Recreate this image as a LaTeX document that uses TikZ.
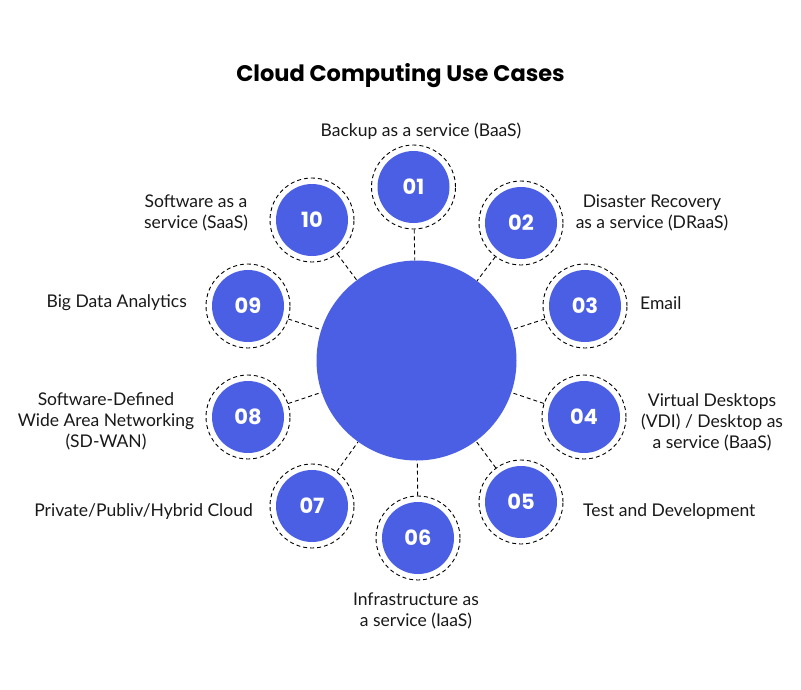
\documentclass[tikz,border=0pt]{standalone}
\usepackage{fontspec}
\setmainfont{Lato}
\newfontfamily\popf{Poppins}
\definecolor{cblue}{RGB}{74,95,228}
\tikzset{
  mainc/.style={circle, fill=cblue, minimum size=200pt, inner sep=0pt},
  numc/.style={circle, fill=cblue, minimum size=72pt, inner sep=0pt, text=white, font={\popf\bfseries\fontsize{21}{24}\selectfont}},
  ringc/.style={circle, draw=black, dash pattern=on 4pt off 3pt, line width=0.9pt, minimum size=84pt, inner sep=0pt},
  conn/.style={draw=black, dash pattern=on 4pt off 3pt, line width=0.9pt},
  lbl/.style={inner sep=0pt, align=center, font={\fontsize{17.5}{21}\selectfont}, text=black!90},
  ttl/.style={inner sep=0pt, font={\popf\bfseries\fontsize{22.5}{26}\selectfont}}
}
\begin{document}
\begin{tikzpicture}[x=1pt,y=-1pt]
\useasboundingbox (0,0) rectangle (801,689);
\fill[white] (0,0) rectangle (801,689);
\node[ttl] (title) at (400.5,76) {Cloud Computing Use Cases};
\node[mainc] (c) at (416.5,360.5) {};
% rings and circles
\foreach \i/\x/\y in {1/413.5/187, 2/521/223, 3/585/306, 4/584/417, 5/521/502, 6/418/538, 7/312/506, 8/248/417, 9/248/306, 10/312/220}{
  \node[ringc] (r\i) at (\x,\y) {};
}
\node[numc] (n1) at (r1) {01};
\node[numc] (n2) at (r2) {02};
\node[numc] (n3) at (r3) {03};
\node[numc] (n4) at (r4) {04};
\node[numc] (n5) at (r5) {05};
\node[numc] (n6) at (r6) {06};
\node[numc] (n7) at (r7) {07};
\node[numc] (n8) at (r8) {08};
\node[numc] (n9) at (r9) {09};
\node[numc] (n10) at (r10) {10};
\foreach \i in {1,...,10}{
  \draw[conn] (r\i) -- (c);
}
% labels
\node[lbl] (l1) at (421,131) {Backup as a service (BaaS)};
\node[lbl] (l2) at (652,212.5) {Disaster Recovery\\as a service (DRaaS)};
\node[lbl, anchor=west] (l3) at (640,303) {Email};
\node[lbl] (l4) at (712,422) {Virtual Desktops\\(VDI) / Desktop as\\a service (BaaS)};
\node[lbl, anchor=west] (l5) at (583,512) {Test and Development};
\node[lbl] (l6) at (416,611) {Infrastructure as\\a service (IaaS)};
\node[lbl, anchor=east] (l7) at (253,512) {Private/Publiv/Hybrid Cloud};
\node[lbl] (l8) at (106,421) {Software-Defined\\Wide Area Networking\\(SD-WAN)};
\node[lbl, anchor=east] (l9) at (187,303) {Big Data Analytics};
\node[lbl] (l10) at (196,212.5) {Software as a\\service (SaaS)};
\end{tikzpicture}
\end{document}
